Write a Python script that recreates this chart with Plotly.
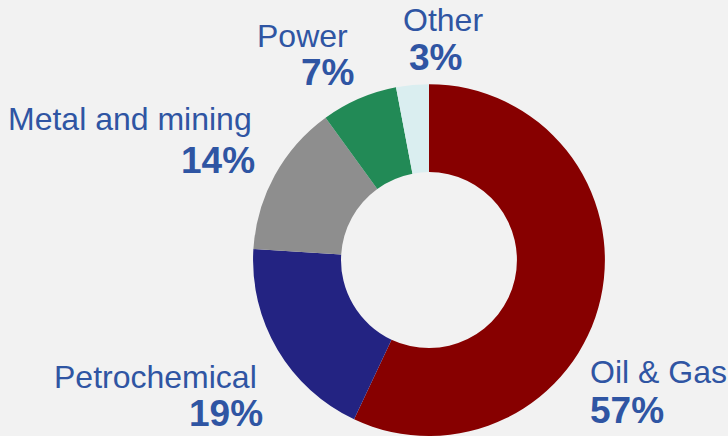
import plotly.graph_objects as go

labels = ["Oil & Gas", "Petrochemical", "Metal and mining", "Power", "Other"]
values = [57, 19, 14, 7, 3]
colors = ["#870000", "#232382", "#8e8e8e", "#228a56", "#daeef0"]

W, H = 728, 436
TXT = "#2f55a3"
FONT = "Liberation Sans, Arial, sans-serif"

fig = go.Figure(go.Pie(
    labels=labels, values=values, hole=0.5, sort=False,
    direction="clockwise", rotation=0,
    marker=dict(colors=colors, line=dict(width=0)),
    textinfo="none", hoverinfo="label+percent", showlegend=False,
    domain=dict(x=[0.3468, 0.8317], y=[0.0, 0.807]),
))

# label placement (pixel positions from top-left): name (x, y, anchor), pct (x, y, anchor)
place = {
    "Oil & Gas": ((588, 372, "left"), (588, 410, "left")),
    "Petrochemical": ((259, 377, "right"), (265, 413, "right")),
    "Metal and mining": ((254, 119, "right"), (257, 160, "right")),
    "Power": ((350, 36, "right"), (356, 72, "right")),
    "Other": ((443, 20, "center"), (435, 57, "center")),
}

ann = []
for lab, val in zip(labels, values):
    (nx, ny, na), (px, py, pa) = place[lab]
    ann.append(dict(x=nx / W, y=1 - ny / H, xref="paper", yref="paper",
                    text=lab, showarrow=False, xanchor=na, yanchor="middle",
                    font=dict(family=FONT, size=32, color=TXT)))
    ann.append(dict(x=px / W, y=1 - py / H, xref="paper", yref="paper",
                    text=f"<b>{val}%</b>", showarrow=False, xanchor=pa, yanchor="middle",
                    font=dict(family=FONT, size=37, color=TXT)))

fig.update_layout(
    width=W, height=H,
    margin=dict(l=0, r=0, t=0, b=0),
    paper_bgcolor="#f2f2f2", plot_bgcolor="#f2f2f2",
    annotations=ann,
)

fig.write_html("out.html", config={"displayModeBar": False},
               post_script="document.body.style.margin='0';document.body.style.overflow='hidden';")
